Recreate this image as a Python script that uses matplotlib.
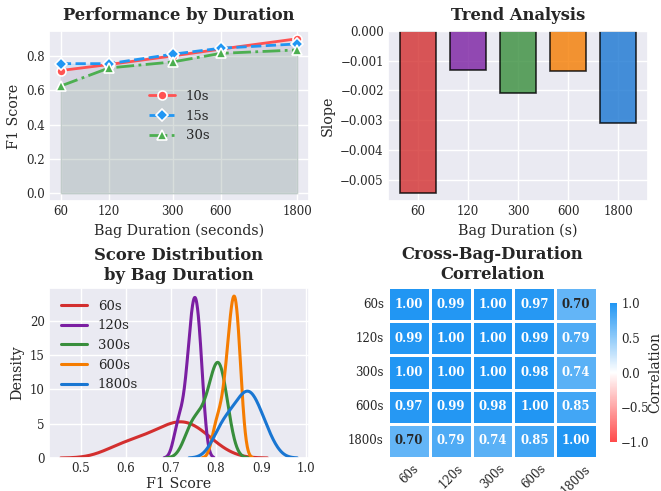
import matplotlib
matplotlib.use("Agg")
import matplotlib.pyplot as plt
from matplotlib.colors import LinearSegmentedColormap
import seaborn as sns
import numpy as np

sns.set_theme(style="darkgrid")
plt.rcParams["font.family"] = ["DejaVu Serif"]

# Performance by window size
durations = [60, 120, 300, 600, 1800]
dur_labels = ["60s", "120s", "300s", "600s", "1800s"]
f1_10s = [0.715, 0.75, 0.80, 0.84, 0.90]
f1_15s = [0.755, 0.755, 0.81, 0.845, 0.87]
f1_30s = [0.625, 0.73, 0.765, 0.815, 0.835]

# Trend slopes
slopes = [-0.00545, -0.0013, -0.0021, -0.00135, -0.0031]

# Per-bag F1 scores for each duration
scores_60 = [0.58, 0.62, 0.65, 0.68, 0.70, 0.715, 0.73, 0.745, 0.76, 0.79]
scores_120 = [0.715, 0.73, 0.74, 0.745, 0.75, 0.75, 0.755, 0.76, 0.765, 0.765]
scores_300 = [0.74, 0.755, 0.77, 0.785, 0.795, 0.80, 0.805, 0.81, 0.815, 0.82]
scores_600 = [0.80, 0.815, 0.825, 0.83, 0.835, 0.84, 0.84, 0.845, 0.85, 0.85]
scores_1800 = [0.805, 0.82, 0.835, 0.85, 0.86, 0.87, 0.875, 0.885, 0.895, 0.915]

# Correlation matrix
corr = [
    [1.00, 0.99, 1.00, 0.97, 0.70],
    [0.99, 1.00, 1.00, 0.99, 0.79],
    [1.00, 1.00, 1.00, 0.98, 0.74],
    [0.97, 0.99, 0.98, 1.00, 0.85],
    [0.70, 0.79, 0.74, 0.85, 1.00],
]

palette = ["#D32F2F", "#7B1FA2", "#388E3C", "#F57C00", "#1976D2"]

fig = plt.figure(figsize=(6.61, 4.91), dpi=100)
ax1 = fig.add_axes([0.0741, 0.5906, 0.3934, 0.3462])
ax2 = fig.add_axes([0.587, 0.5906, 0.3934, 0.3462])
ax3 = fig.add_axes([0.0741, 0.0672, 0.3934, 0.3462])
ax4 = fig.add_axes([0.587, 0.0672, 0.3162, 0.348])
cax = fig.add_axes([0.9228, 0.0998, 0.0106, 0.283])

TITLE = 11.8
LABEL = 10.3
TICK = 8.5
LEG = 9.5

# --- panel 1
series = [
    ("10s", f1_10s, "#FF5252", "-", "o"),
    ("15s", f1_15s, "#2196F3", "--", "D"),
    ("30s", f1_30s, "#4CAF50", "-.", "^"),
]
for name, vals, c, ls, m in series:
    ax1.plot(durations, vals, ls, color=c, marker=m, markersize=6.5,
             markeredgecolor="white", markeredgewidth=1.2, linewidth=2, label=name)
    ax1.fill_between(durations, 0, vals, color=c, alpha=0.1)
ax1.set_xscale("log")
ax1.set_xticks(durations)
ax1.set_xticklabels([str(d) for d in durations])
ax1.minorticks_off()
ax1.set_xlabel("Bag Duration (seconds)", fontsize=LABEL)
ax1.set_ylabel("F1 Score", fontsize=LABEL)
ax1.set_title("Performance by Duration", fontsize=TITLE, fontweight="bold", pad=8)
ax1.legend(loc="center", frameon=False, fontsize=LEG)

# --- panel 2
x = np.arange(len(durations))
ax2.bar(x, slopes, color=palette, alpha=0.8, edgecolor="black", linewidth=1.2, width=0.72)
ax2.set_xticks(x)
ax2.set_xticklabels([str(d) for d in durations])
ax2.set_xlabel("Bag Duration (s)", fontsize=LABEL)
ax2.set_ylabel("Slope", fontsize=LABEL)
ax2.set_title("Trend Analysis", fontsize=TITLE, fontweight="bold", pad=8)

# --- panel 3
all_scores = [scores_60, scores_120, scores_300, scores_600, scores_1800]
for lab, sc, c in zip(dur_labels, all_scores, palette):
    sns.kdeplot(sc, ax=ax3, color=c, linewidth=2.2, label=lab)
ax3.set_xlabel("F1 Score", fontsize=LABEL, labelpad=1)
ax3.set_ylabel("Density", fontsize=LABEL)
ax3.set_title("Score Distribution\nby Bag Duration", fontsize=TITLE, fontweight="bold")
ax3.legend(loc="upper left", frameon=False, fontsize=LEG)

for ax in (ax1, ax2, ax3):
    ax.tick_params(labelsize=TICK, length=0, pad=3)

# --- panel 4
cmap = LinearSegmentedColormap.from_list("rwb", ["#FF4B4B", "white", "#2196F3"])
sns.heatmap(np.array(corr), ax=ax4, cbar_ax=cax, cmap=cmap, vmin=-1, vmax=1,
            annot=True, fmt=".2f", annot_kws={"fontsize": 8.5, "fontweight": "bold"},
            linewidths=0.8, linecolor="white", xticklabels=dur_labels, yticklabels=dur_labels)
ax4.set_title("Cross-Bag-Duration\nCorrelation", fontsize=TITLE, fontweight="bold")
ax4.tick_params(labelsize=TICK, length=0, pad=3)
ax4.set_xticklabels(dur_labels, rotation=45)
ax4.set_yticklabels(dur_labels, rotation=0)
cax.tick_params(labelsize=TICK, length=0, pad=3)
cax.set_ylabel("Correlation", fontsize=10, labelpad=-1)

fig.savefig("out.png", dpi=100)
